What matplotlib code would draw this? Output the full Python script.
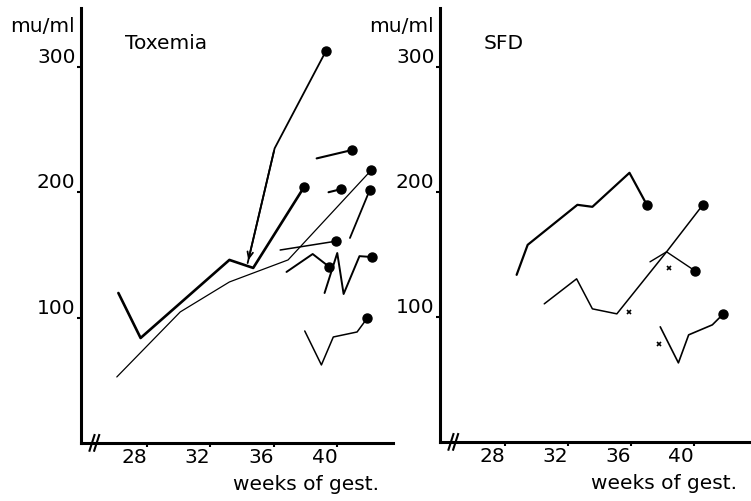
import numpy as np
import matplotlib
matplotlib.use("Agg")
import matplotlib.pyplot as plt

# Toxemia panel: each patient is a list of (week, mu/ml); last point gets a dot
tox_weeks = [
    [26.2, 27.6, 33.2, 34.7, 37.9],          # thick V-start line
    [39.3, 36.05, 34.35],                    # arrow line down from 313
    [26.1, 30.1, 33.2, 36.9, 42.15],         # thin long line
    [36.4, 39.95],
    [38.7, 40.9],
    [39.45, 40.25],
    [40.8, 42.05],
    [36.8, 38.45, 39.5],
    [39.2, 40.0, 40.4, 41.4, 42.2],
    [37.95, 39.0, 39.75, 41.25, 41.9],
]
tox_vals = [
    [119.6, 83.7, 146, 139.6, 204],
    [313, 235, 143.5],
    [52.6, 104.5, 128.4, 146, 217.7],
    [153.9, 161],
    [227, 233.6],
    [200, 202.5],
    [163.5, 201.8],
    [136.4, 150.7, 140.4],
    [119.6, 151.5, 118.8, 149, 148.3],
    [89.3, 62.2, 84.5, 88.5, 99.7],
]
tox_dot = [True, False, True, True, True, True, True, True, True, True]
tox_start_dot = [False, True, False, False, False, False, False, False, False, False]
tox_lw = [1.9, 1.3, 0.9, 1.1, 1.5, 1.5, 1.3, 1.4, 1.4, 1.1]

# SFD panel
sfd_weeks = [
    [28.75, 29.45, 32.6, 33.55, 35.9, 37.0],
    [30.5, 32.55, 33.55, 35.1, 38.25, 40.55],
    [37.2, 38.25, 40.05],
    [37.85, 39.0, 39.65, 41.15, 41.85],
]
sfd_vals = [
    [133.6, 157.6, 189.6, 188, 215.2, 189.6],
    [110.4, 130.4, 106.4, 102.4, 152, 189.6],
    [144, 152, 136.8],
    [92, 63.2, 85.6, 93.6, 102.4],
]
sfd_lw = [1.6, 1.1, 1.0, 1.2]
sfd_x_weeks = [35.9, 38.4, 37.8]
sfd_x_vals = [104, 139.2, 78.4]

yticks = [100, 200, 300]
xticks = [28, 32, 36, 40]
FS = 14.5

fig = plt.figure(figsize=(7.51, 5.01), dpi=100)
ax1 = fig.add_axes([0.108, 0.116, 0.415, 0.868])
ax2 = fig.add_axes([0.586, 0.118, 0.414, 0.866])

def style(ax, title, xlim):
    ax.set_xlim(*xlim)
    ax.set_ylim(0, 347)
    for s in ["top", "right"]:
        ax.spines[s].set_visible(False)
    for s in ["left", "bottom"]:
        ax.spines[s].set_linewidth(2.2)
    ax.set_yticks(yticks)
    ax.set_yticklabels([str(v) for v in yticks], fontsize=FS)
    for lbl in ax.get_yticklabels():
        lbl.set_va("bottom")
    ax.set_xticks(xticks)
    ax.set_xticklabels([str(v) for v in xticks], fontsize=FS)
    for lbl in ax.get_xticklabels():
        lbl.set_ha("right")
    ax.tick_params(axis="both", length=3, width=1.5, direction="out", pad=1)
    ax.text(-0.02, 0.98, "mu/ml", transform=ax.transAxes, fontsize=FS,
            ha="right", va="top")
    ax.text(0.14, 0.94, title, transform=ax.transAxes, fontsize=FS,
            ha="left", va="top")
    ax.text(0.955, -0.075, "weeks of gest.", transform=ax.transAxes,
            fontsize=FS, ha="right", va="top")
    # axis break marks
    for dx in [0.035, 0.05]:
        ax.plot([dx - 0.008, dx + 0.008], [-0.018, 0.018], color="black",
                lw=1.5, transform=ax.transAxes, clip_on=False)

style(ax1, "Toxemia", (23.85, 43.5))
style(ax2, "SFD", (23.9, 43.6))

for i in range(len(tox_weeks)):
    w = tox_weeks[i]
    v = tox_vals[i]
    ax1.plot(w, v, color="black", lw=tox_lw[i], solid_capstyle="round")
    if tox_dot[i]:
        ax1.plot(w[-1], v[-1], "o", color="black", ms=6.5)
    if tox_start_dot[i]:
        ax1.plot(w[0], v[0], "o", color="black", ms=6.5)

# arrowhead on the line that comes down
w = tox_weeks[1]
v = tox_vals[1]
ax1.annotate("", xy=(w[-1], v[-1]), xytext=(w[-2], v[-2]),
             arrowprops=dict(arrowstyle="->,head_length=0.45,head_width=0.2",
                             color="black", lw=1.3))

for i in range(len(sfd_weeks)):
    w = sfd_weeks[i]
    v = sfd_vals[i]
    ax2.plot(w, v, color="black", lw=sfd_lw[i], solid_capstyle="round")
    ax2.plot(w[-1], v[-1], "o", color="black", ms=6.5)

ax2.plot(sfd_x_weeks, sfd_x_vals, "x", color="black", ms=3.5, mew=1.2)

fig.savefig("out.png", dpi=100)
